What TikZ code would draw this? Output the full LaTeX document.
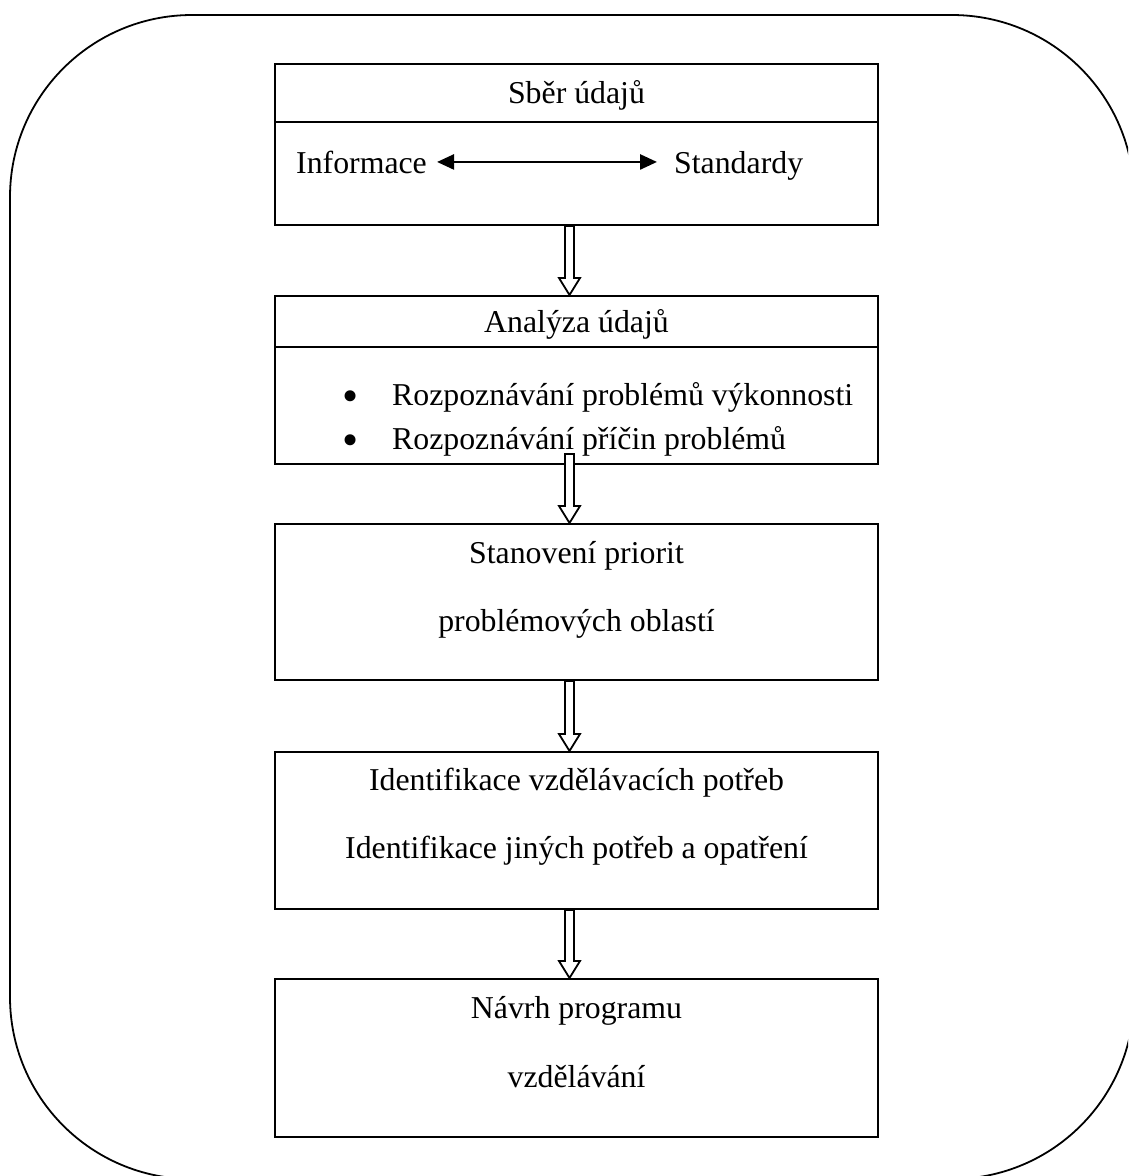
\documentclass[tikz,border=0pt]{standalone}
\usepackage{fontspec}
\setmainfont{Liberation Serif}
\usetikzlibrary{calc,arrows.meta}

\tikzset{
  box/.style={draw, line width=2pt, minimum width=603pt, inner sep=0pt, anchor=north},
  txt/.style={inner sep=0pt, anchor=base, font=\fontsize{31.8}{38}\selectfont},
  bul/.style={inner sep=0pt, anchor=base, font=\fontsize{46}{46}\selectfont},
  hollow/.style={draw, line width=1.8pt, fill=white, line join=miter},
}
%% hollow down arrow: #1 top of shaft, #2 tip
\newcommand{\hollowdown}[2]{%
  \draw[hollow] ($(#1)+(-4.5,0)$) -- ($(#2)+(-4.5,-17)$) -- ($(#2)+(-10.5,-17)$) -- (#2)
    -- ($(#2)+(10.5,-17)$) -- ($(#2)+(4.5,-17)$) -- ($(#1)+(4.5,0)$) -- cycle;}

\begin{document}
\begin{tikzpicture}[x=1pt, y=-1pt]
  \useasboundingbox (0,0) rectangle (1128,1176);
  \clip (0,0) rectangle (1128,1176);
  %% Outer frame
  \draw[line width=1.8pt, rounded corners=182pt] (10,15) rectangle (1134,1179);

  %% Boxes
  \node[box, minimum height=161pt] (sber) at (576.5,63) {};
  \node[box, minimum height=168pt] (analyza) at (576.5,295) {};
  \node[box, minimum height=156pt] (priority) at (576.5,523) {};
  \node[box, minimum height=157pt] (needs) at (576.5,751) {};
  \node[box, minimum height=158pt] (design) at (576.5,978) {};

  %% Header lines
  \coordinate (div1) at (0,122);
  \coordinate (div2) at (0,347);
  \draw[line width=2pt] (sber.west |- div1) -- (sber.east |- div1);
  \draw[line width=2pt] (analyza.west |- div2) -- (analyza.east |- div2);

  %% Texts
  \node[txt] (sberlbl) at (576.5,103) {Sběr údajů};
  \node[txt, anchor=base west] (info) at (296,173) {Informace};
  \node[txt, anchor=base west] (std) at (674,173) {Standardy};
  \draw[line width=2.6pt, {Triangle[length=17pt, width=15pt]}-{Triangle[length=17pt, width=15pt]}]
    ([xshift=10pt]info.east) -- ([xshift=-17pt]info.east -| std.west);

  \node[txt] (analbl) at (576.5,332) {Analýza údajů};
  \node[bul] (b1) at (351,411) {•};
  \node[bul] (b2) at (351,455) {•};
  \node[txt, anchor=base west] (r1) at (392,405) {Rozpoznávání problémů výkonnosti};
  \node[txt, anchor=base west] (r2) at (392,449) {Rozpoznávání příčin problémů};

  \node[txt] (p1) at (576.5,563) {Stanovení priorit};
  \node[txt] (p2) at (576.5,631) {problémových oblastí};

  \node[txt] (n1) at (576.5,790) {Identifikace vzdělávacích potřeb};
  \node[txt] (n2) at (576.5,858) {Identifikace jiných potřeb a opatření};

  \node[txt] (d1) at (576.5,1018) {Návrh programu};
  \node[txt] (d2) at (576.5,1087) {vzdělávání};

  %% Hollow arrows between boxes
  \coordinate (a1s) at ($(sber.south)+(-7,0)$);
  \coordinate (a1e) at ($(analyza.north)+(-7,0)$);
  \coordinate (a2s) at ($(analyza.south)+(-7,-11)$);
  \coordinate (a2e) at ($(priority.north)+(-7,0)$);
  \coordinate (a3s) at ($(priority.south)+(-7,0)$);
  \coordinate (a3e) at ($(needs.north)+(-7,0)$);
  \coordinate (a4s) at ($(needs.south)+(-7,0)$);
  \coordinate (a4e) at ($(design.north)+(-7,0)$);
  \hollowdown{a1s}{a1e}
  \hollowdown{a2s}{a2e}
  \hollowdown{a3s}{a3e}
  \hollowdown{a4s}{a4e}
\end{tikzpicture}
\end{document}
